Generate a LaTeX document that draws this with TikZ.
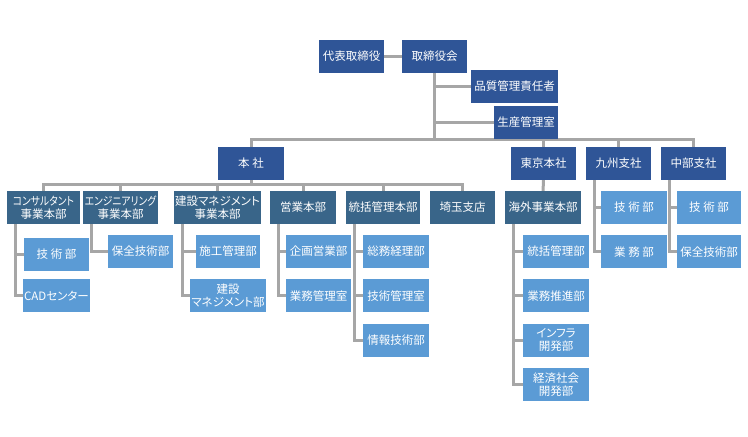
\documentclass[tikz,border=0pt]{standalone}
\usepackage{fontspec}
\setmainfont{Noto Sans CJK JP}[RawFeature=+palt]
\newfontfamily\narrowkana{Noto Sans CJK JP}[RawFeature=+palt, FakeStretch=0.85]
\usepackage{xcolor}
\usetikzlibrary{positioning, backgrounds}

\definecolor{topblue}{RGB}{47,85,151}
\definecolor{divblue}{RGB}{57,101,137}
\definecolor{deptblue}{RGB}{91,155,213}
\definecolor{linegray}{RGB}{166,166,166}

\begin{document}
\begin{tikzpicture}[
  x=1bp, y=-1bp,
  orgbox/.style={minimum width=65bp, minimum height=33bp, inner sep=1bp, align=center,
                 text=white, font=\fontsize{11.5bp}{13bp}\selectfont},
  exec/.style={orgbox, fill=topblue},
  divbox/.style={orgbox, fill=divblue},
  deptbox/.style={orgbox, fill=deptblue},
  link/.style={draw=linegray, line width=3bp}
]
\useasboundingbox (0,0) rectangle (748,437);

% top level
\node[exec] (ceo) at (351.5,56.5) {代表取締役};
\node[exec] (board) at (434.5,56.5) {取締役会};
\node[exec, minimum width=87bp] (qa) at (514.5,86.5) {品質管理責任者};
\node[exec, minimum width=64bp] (prod) at (526,122.5) {生産管理室};
\node[exec, minimum width=66bp] (hq) at (251,163.5) {本 社};
\node[exec] (tokyo) at (543.5,163.5) {東京本社};
\node[exec] (kyushu) at (618.5,163.5) {九州支社};
\node[exec] (chubu) at (693.5,163.5) {中部支社};

% divisions
\node[divbox, minimum width=73bp, text width=71bp] (cons) at (43.5,207.5)
  {{\narrowkana コンサルタント}\\事業本部};
\node[divbox, minimum width=75bp, text width=73bp] (eng) at (120.5,207.5)
  {{\narrowkana エンジニアリング}\\事業本部};
\node[divbox, minimum width=85bp] (cm) at (217.5,207.5) {建設マネジメント\\事業本部};
\node[divbox, minimum width=66bp] (sales) at (303,207.5) {営業本部};
\node[divbox, minimum width=74bp] (admin) at (383,207.5) {統括管理本部};
\node[divbox] (saitama) at (462.5,207.5) {埼玉支店};
\node[divbox, minimum width=76bp] (overseas) at (543,207.5) {海外事業本部};

% departments
\node[deptbox] (cons1) at (56.5,254.5) {技 術 部};
\node[deptbox, below=8bp of cons1] (cons2) {CADセンター};
\node[deptbox] (eng1) at (140.5,251.5) {保全技術部};
\node[deptbox, minimum width=64bp] (cm1) at (228,251.5) {施工管理部};
\node[deptbox, minimum width=64bp, below=11bp of cm1] (cm2) {建設\\マネジメント部};
\node[deptbox] (sales1) at (318.5,251.5) {企画営業部};
\node[deptbox, below=11bp of sales1] (sales2) {業務管理室};
\node[deptbox, minimum width=66bp] (admin1) at (396,251.5) {総務経理部};
\node[deptbox, minimum width=66bp, below=11bp of admin1] (admin2) {技術管理室};
\node[deptbox, minimum width=66bp, below=11bp of admin2] (admin3) {情報技術部};
\node[deptbox, minimum width=66bp] (os1) at (556,251.5) {統括管理部};
\node[deptbox, minimum width=66bp, below=11bp of os1] (os2) {業務推進部};
\node[deptbox, minimum width=66bp, below=11bp of os2] (os3) {インフラ\\開発部};
\node[deptbox, minimum width=66bp, below=11bp of os3] (os4) {経済社会\\開発部};
\node[deptbox, minimum width=66bp] (ky1) at (634,207.5) {技 術 部};
\node[deptbox, minimum width=66bp, below=11bp of ky1] (ky2) {業 務 部};
\node[deptbox, minimum width=64bp] (ch1) at (709,207.5) {技 術 部};
\node[deptbox, minimum width=64bp, below=11bp of ch1] (ch2) {保全技術部};

\coordinate (bus) at (0,140);
\coordinate (bus2) at (0,185);

\begin{scope}[on background layer]
\draw[link] (ceo) -- (board);
\draw[link] (board.south) |- (qa.west);
\draw[link] (board.south) |- (prod.west);
\draw[link] (board.south) -- (board |- bus) -| (hq.north);
\foreach \n in {tokyo, kyushu, chubu}
  \draw[link] (board |- bus) -| (\n.north);
\foreach \n in {cons, eng, cm, sales, admin, saitama}
  \draw[link] (hq.south) -- (hq |- bus2) -| (\n.north);
\draw[link] (tokyo) -- (overseas);
\foreach \p/\c in {cons/cons1, cons/cons2, eng/eng1, cm/cm1, cm/cm2,
                   sales/sales1, sales/sales2, admin/admin1, admin/admin2, admin/admin3,
                   overseas/os1, overseas/os2, overseas/os3, overseas/os4,
                   kyushu/ky1, kyushu/ky2, chubu/ch1, chubu/ch2}
  \draw[link] ([xshift=9bp]\p.south west) |- (\c.west);
\end{scope}
\end{tikzpicture}
\end{document}
